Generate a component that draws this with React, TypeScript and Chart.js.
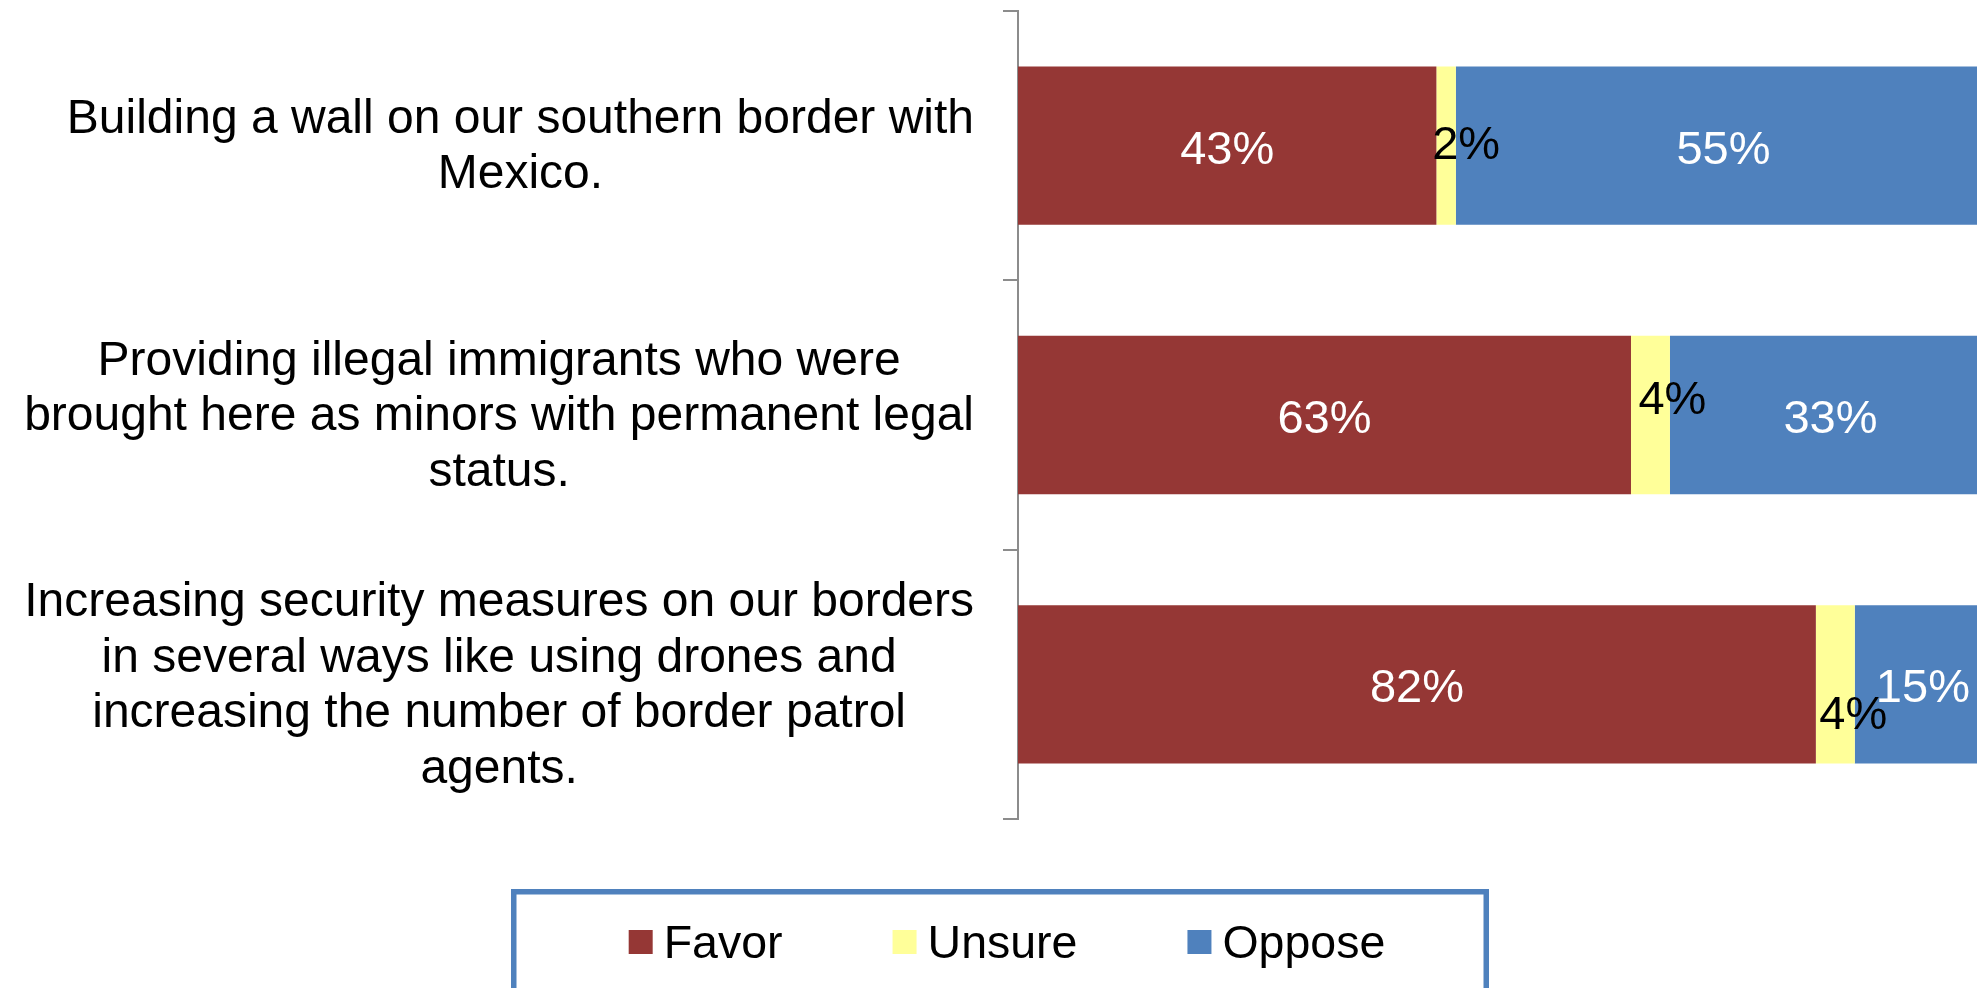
import React, { useEffect, useRef } from "react";
import { Chart, registerables } from "chart.js";

Chart.register(...registerables);

// ---- data ----
const categories: string[][] = [
  ["Building a wall on our southern border with", "Mexico."],
  ["Providing illegal immigrants who were", "brought here as minors with permanent legal", "status."],
  [
    "Increasing security measures on our borders",
    "in several ways like using drones and",
    "increasing the number of border patrol",
    "agents.",
  ],
];
const seriesNames = ["Favor", "Unsure", "Oppose"];
const favor = [43, 63, 82];
const unsure = [2, 4, 4];
const oppose = [55, 33, 15];
const axisMin = 0;
const axisMax = 100;

// ---- styles ----
const FONT = "'Liberation Sans', Arial, Helvetica, sans-serif";
const seriesColors = ["#953735", "#FFFF99", "#4F81BD"];
const labelColors = ["#FFFFFF", "#000000", "#FFFFFF"];
// manual nudges of the "Unsure" value labels (as placed in the original)
const unsureNudge = [
  { dx: 20, dy: -5 },
  { dx: 22, dy: -19 },
  { dx: 18, dy: 27 },
];

const categoryLabelPlugin = {
  id: "categoryLabels",
  afterDraw(chart: any) {
    const ctx = chart.ctx;
    const yScale = chart.scales.y;
    ctx.save();
    ctx.font = `48px ${FONT}`;
    ctx.fillStyle = "#000000";
    ctx.textAlign = "center";
    ctx.textBaseline = "alphabetic";
    const right = yScale.right - 44;
    const lineHeight = 55.5;
    categories.forEach((lines, i) => {
      const cy = yScale.getPixelForValue(i);
      const w = Math.max(...lines.map((l) => ctx.measureText(l).width));
      const cx = right - w / 2;
      lines.forEach((line, j) => {
        const by = cy + (j - (lines.length - 1) / 2) * lineHeight + 15;
        ctx.fillText(line, cx, by);
      });
    });
    ctx.restore();
  },
};

const valueLabelPlugin = {
  id: "valueLabels",
  afterDatasetsDraw(chart: any) {
    const ctx = chart.ctx;
    const area = chart.chartArea;
    ctx.save();
    ctx.font = `47px ${FONT}`;
    ctx.textAlign = "center";
    ctx.textBaseline = "alphabetic";
    chart.data.datasets.forEach((ds: any, di: number) => {
      const meta = chart.getDatasetMeta(di);
      meta.data.forEach((el: any, i: number) => {
        const v = ds.data[i];
        const p = el.getProps(["x", "y", "base"], true);
        const start = Math.max(Math.min(p.x, p.base), area.left);
        const end = Math.min(Math.max(p.x, p.base), area.right);
        let cx = (start + end) / 2;
        let cy = p.y + 18;
        if (di === 1) {
          cx += unsureNudge[i].dx;
          cy += unsureNudge[i].dy;
        }
        ctx.fillStyle = labelColors[di];
        ctx.fillText(`${v}%`, cx, cy);
      });
    });
    ctx.restore();
  },
};

const legendPlugin = {
  id: "boxLegend",
  afterDraw(chart: any) {
    const ctx = chart.ctx;
    ctx.save();
    // frame
    ctx.strokeStyle = "#4F81BD";
    ctx.lineWidth = 5.5;
    ctx.strokeRect(513.75, 891.75, 972.5, 200);
    // items
    ctx.font = `46.5px ${FONT}`;
    ctx.textAlign = "left";
    ctx.textBaseline = "alphabetic";
    const box = 24;
    const textGap = 11;
    const itemGap = 110;
    const names = chart.data.datasets.map((d: any) => d.label);
    const widths = names.map((n: string) => box + textGap + ctx.measureText(n).width);
    const total = widths.reduce((a: number, b: number) => a + b, 0) + itemGap * (names.length - 1);
    let x = 1007 - total / 2;
    names.forEach((n: string, i: number) => {
      ctx.fillStyle = chart.data.datasets[i].backgroundColor;
      ctx.fillRect(x, 930, box, box);
      ctx.fillStyle = "#000000";
      ctx.fillText(n, x + box + textGap, 957.5);
      x += widths[i] + itemGap;
    });
    ctx.restore();
  },
};

export default function App() {
  const ref = useRef<HTMLCanvasElement>(null);
  useEffect(() => {
    if (!ref.current) return;
    const values = [favor, unsure, oppose];
    const chart = new Chart(ref.current, {
      type: "bar",
      data: {
        labels: categories.map((c) => c.join(" ")),
        datasets: seriesNames.map((name, i) => ({
          label: name,
          data: values[i],
          backgroundColor: seriesColors[i],
          borderWidth: 0,
          barPercentage: 0.588,
          categoryPercentage: 1,
        })),
      },
      options: {
        indexAxis: "y",
        responsive: false,
        animation: false,
        devicePixelRatio: 1,
        layout: { padding: { top: 11, bottom: 169, left: 0, right: 4 } },
        plugins: {
          legend: { display: false },
          tooltip: { enabled: false },
        },
        scales: {
          x: {
            type: "linear",
            min: axisMin,
            max: axisMax,
            stacked: true,
            display: false,
          },
          y: {
            stacked: true,
            offset: true,
            grid: {
              display: true,
              drawOnChartArea: false,
              drawTicks: true,
              tickLength: 15,
              color: "#8c8c8c",
              lineWidth: 2,
              offset: true,
            },
            border: { display: true, color: "#8c8c8c", width: 2 },
            ticks: { display: false },
            afterFit: (s: any) => {
              s.width = 1018;
            },
          },
        },
      },
      plugins: [valueLabelPlugin, categoryLabelPlugin, legendPlugin],
    } as any);
    return () => chart.destroy();
  }, []);
  return (
    <div
      style={{
        position: "absolute",
        left: 0,
        top: 0,
        width: 1977,
        height: 988,
        overflow: "hidden",
        background: "#ffffff",
      }}
    >
      <canvas
        ref={ref}
        width={1995}
        height={988}
        style={{ display: "block", width: 1995, height: 988 }}
      />
    </div>
  );
}
